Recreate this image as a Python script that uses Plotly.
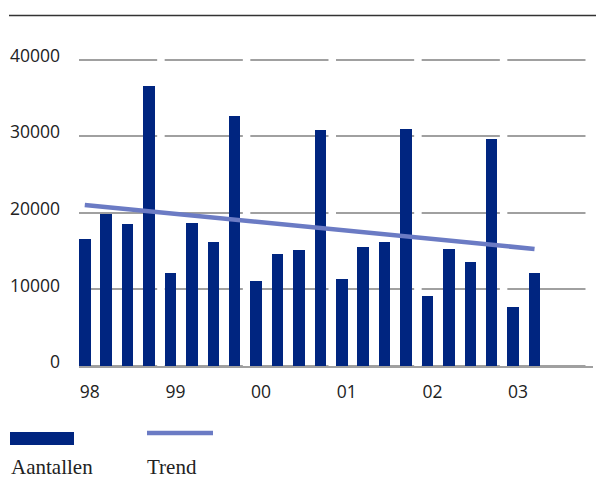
import plotly.graph_objects as go

# Quarterly counts, 1998 Q1 .. 2003 Q2
years = ["98", "99", "00", "01", "02", "03"]
aantallen = [16550, 19850, 18550, 36500,
             12100, 18700, 16150, 32650,
             11050, 14600, 15100, 30800,
             11350, 15500, 16150, 30900,
             9200, 15250, 13600, 29600,
             7700, 12200]
# Linear trend: value at first and last quarter
trend_start = 21030
trend_end = 15280

BAR = "#002580"
TREND = "#6b7bc4"
GRID = "#a0a0a0"

W, H = 596, 479
ML, MR, MT, MB = 79, 3, 52, 113
PW, PH = W - ML - MR, H - MT - MB

def px(x):
    return (x - ML) / PW

def py(y):
    return (H - MB - y) / PH

n = len(aantallen)
quarters = list(range(n))
bar_w = 0.54

fig = go.Figure()
fig.add_trace(go.Bar(
    x=quarters, y=aantallen, width=bar_w, offset=0,
    marker=dict(color=BAR, line=dict(width=0)),
    name="Aantallen", showlegend=False,
))
fig.add_trace(go.Scatter(
    x=[quarters[0] + bar_w / 2, quarters[-1] + bar_w / 2],
    y=[trend_start, trend_end],
    mode="lines", line=dict(color=TREND, width=4.5),
    name="Trend", showlegend=False,
))

shapes = []
# white separators that break the grid at each year end
for k in range(len(years)):
    end = 4 * (k + 1)
    shapes.append(dict(type="rect", xref="x", yref="y",
                       x0=end - 0.35, x1=end, y0=-1000, y1=42000,
                       fillcolor="white", line=dict(width=0), layer="between"))
# rule above the chart
shapes.append(dict(type="line", xref="paper", yref="paper",
                   x0=px(9), x1=px(596), y0=py(15.5), y1=py(15.5),
                   line=dict(color="#333333", width=1.3)))
# legend keys
shapes.append(dict(type="rect", xref="paper", yref="paper",
                   x0=px(10), x1=px(74), y0=py(445), y1=py(432),
                   fillcolor=BAR, line=dict(width=0)))
shapes.append(dict(type="line", xref="paper", yref="paper",
                   x0=px(147), x1=px(213), y0=py(433), y1=py(433),
                   line=dict(color=TREND, width=4.5)))

serif = dict(family="Liberation Serif", size=21, color="#222222")
annotations = [
    dict(text="Aantallen", xref="paper", yref="paper", x=px(9), y=py(466.5),
         xanchor="left", yanchor="middle", showarrow=False, font=serif),
    dict(text="Trend", xref="paper", yref="paper", x=px(145), y=py(466.5),
         xanchor="left", yanchor="middle", showarrow=False, font=serif),
]

sans = dict(family="Open Sans", size=17.5, color="#222222")

fig.update_layout(
    width=W, height=H,
    margin=dict(l=ML, r=MR, t=MT, b=MB, pad=0),
    paper_bgcolor="white", plot_bgcolor="white",
    bargap=0,
    shapes=shapes, annotations=annotations,
    xaxis=dict(range=[0, 24], tickvals=[4 * k + 0.5 for k in range(len(years))],
               ticktext=years, showgrid=False, zeroline=False, showline=False,
               ticks="", tickfont=sans, ticklabelstandoff=13, fixedrange=True),
    yaxis=dict(range=[0, 41000], tickvals=[0, 10000, 20000, 30000, 40000],
               ticktext=["0", "10000", "20000", "30000", "40000"],
               showgrid=True, gridcolor=GRID, gridwidth=1.5,
               zeroline=True, zerolinecolor=GRID, zerolinewidth=3,
               showline=False, ticks="", tickfont=sans,
               ticklabelstandoff=18, ticklabelshift=-4, fixedrange=True),
)

fig.write_html("out.html")
